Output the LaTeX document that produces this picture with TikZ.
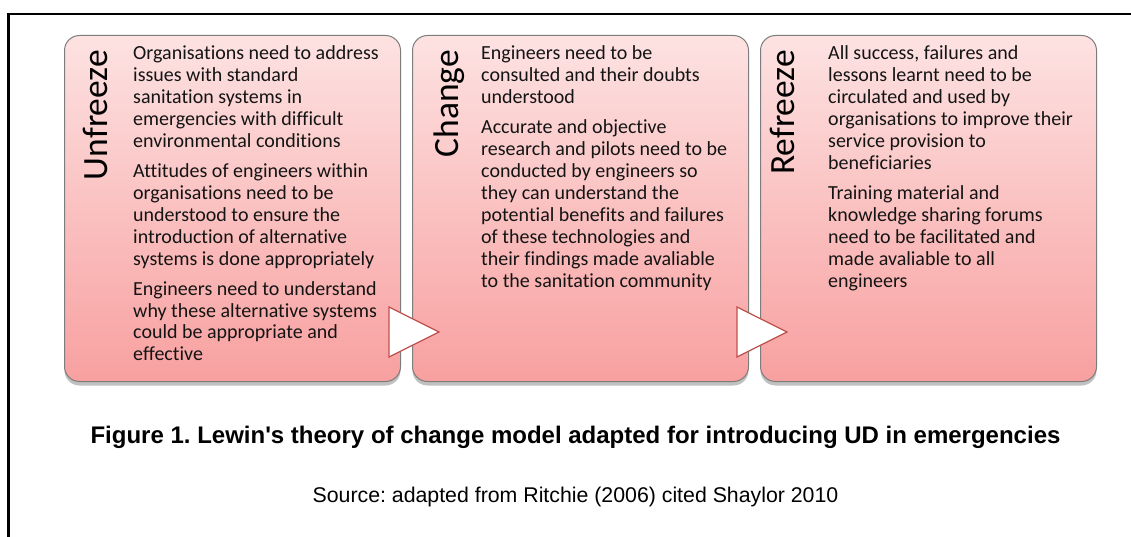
\documentclass[tikz,border=0pt]{standalone}
\usepackage{fontspec}
\setmainfont{Carlito}[Ligatures={NoCommon}]
\newfontfamily\arialf{Liberation Sans}
\usetikzlibrary{shadows}
\frenchspacing
\definecolor{boxtop}{RGB}{253,226,226}
\definecolor{boxbot}{RGB}{248,160,160}
\definecolor{boxline}{RGB}{125,125,125}
\definecolor{arrowred}{RGB}{192,80,77}
\definecolor{bodyink}{RGB}{20,20,20}
\newcommand{\stagetext}[1]{\vtop{\hsize=300pt\parindent=0pt\parskip=8.1pt\baselineskip=21.9pt\raggedright #1}}
\tikzset{
  stagebox/.style={rounded corners=15pt, top color=boxtop, bottom color=boxbot,
    draw=boxline, line width=1pt, minimum width=336pt, minimum height=346pt,
    anchor=north west, inner sep=0pt,
    drop shadow={shadow xshift=0pt, shadow yshift=-4pt, opacity=0.35, fill=black!70}},
  stagetitle/.style={rotate=90, anchor=base east, inner sep=0pt,
    font=\fontsize{35.5}{40}\selectfont},
  stagebody/.style={anchor=base west, inner sep=0pt, text=bodyink,
    font=\fontsize{20}{21.9}\selectfont},
  chevron/.style={fill=white, draw=arrowred, line width=1.2pt, line join=miter},
  framerule/.style={line width=2.5pt, line join=miter}
}
\begin{document}
\begin{tikzpicture}[x=1pt,y=1pt]
\useasboundingbox (0,0) rectangle (1131,-537);
\fill[white] (0,0) rectangle (1131,-537);
% frame
\coordinate (fb) at (8.7,-537);
\coordinate (fc) at (8.7,-14);
\coordinate (fr) at (1131,-14);
\draw[framerule] (fb) -- (fc) -- (fr);
% boxes
\node[stagebox] (b1) at (64,-35) {};
\node[stagebox] (b2) at (412,-35) {};
\node[stagebox] (b3) at (760,-35) {};
% titles
\node[stagetitle] (h1) at (107,-50) {Unfreeze};
\node[stagetitle] (h2) at (458,-50) {Change};
\node[stagetitle] (h3) at (794,-50) {Refreeze};
% body texts
\node[stagebody] (t1) at (133,-60) {\stagetext{%
Organisations need to address\\issues with standard\\sanitation systems in\\emergencies with difficult\\environmental conditions\par
Attitudes of engineers within\\organisations need to be\\understood to ensure the\\introduction of alternative\\systems is done appropriately\par
Engineers need to understand\\why these alternative systems\\could be appropriate and\\effective}};
\node[stagebody] (t2) at (481,-60) {\stagetext{%
Engineers need to be\\consulted and their doubts\\understood\par
Accurate and objective\\research and pilots need to be\\conducted by engineers so\\they can understand the\\potential benefits and failures\\of these technologies and\\their findings made avaliable\\to the sanitation community}};
\node[stagebody] (t3) at (828,-60) {\stagetext{%
All success, failures and\\lessons learnt need to be\\circulated and used by\\organisations to improve their\\service provision to\\beneficiaries\par
Training material and\\knowledge sharing forums\\need to be facilitated and\\made avaliable to all\\engineers}};
% chevrons
\coordinate (a1t) at (389,-307);
\coordinate (a1p) at (439,-332);
\coordinate (a1b) at (389,-357);
\draw[chevron] (a1t) -- (a1p) -- (a1b) -- cycle;
\coordinate (a2t) at (737,-307);
\coordinate (a2p) at (787,-332);
\coordinate (a2b) at (737,-357);
\draw[chevron] (a2t) -- (a2p) -- (a2b) -- cycle;
% caption
\node[anchor=base, inner sep=0pt, font=\arialf\bfseries\fontsize{24}{28}\selectfont] (cap) at (575.5,-443)
  {Figure 1. Lewin{\char"27}s theory of change model adapted for introducing UD in emergencies};
\node[anchor=base, inner sep=0pt, font=\arialf\fontsize{21.3}{25}\selectfont] (src) at (575.5,-502)
  {Source: adapted from Ritchie (2006) cited Shaylor 2010};
\end{tikzpicture}
\end{document}
